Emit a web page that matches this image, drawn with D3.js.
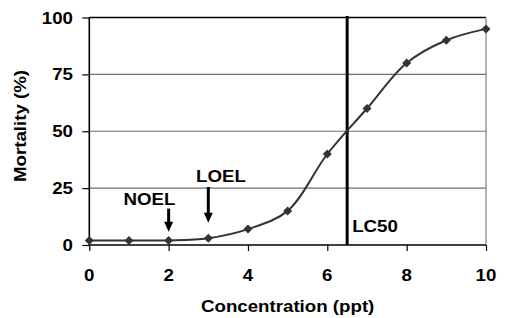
<!DOCTYPE html>
<html>
<head>
<meta charset="utf-8">
<script src="https://cdn.jsdelivr.net/npm/d3@7"></script>
<style>
  body { margin: 0; background: #fff; }
  svg text { font-family: "Liberation Sans", Arial, sans-serif; font-weight: bold; font-size: 17px; fill: #000; }
</style>
</head>
<body>
<svg id="chart" width="506" height="318"></svg>
<script>
// data
const concentration = [0, 1, 2, 3, 4, 5, 6, 7, 8, 9, 10];
const mortality = [2, 2, 2, 3, 7, 15, 40, 60, 80, 90, 95];
const xTicks = [0, 2, 4, 6, 8, 10];
const yTicks = [0, 25, 50, 75, 100];
const lc50 = 6.5;
// arrows: label, x value, top and tip of arrow (mortality units)
const arrowLabels = ["NOEL", "LOEL"];
const arrowX = [2, 3];
const arrowTop = [16, 25.5];
const arrowTip = [5.8, 9.8];

const svg = d3.select("#chart");
const sx = 1.1; // text is a bit wider than plain Arial

const x = d3.scaleLinear().domain([0, 10]).range([89.3, 486]);
const y = d3.scaleLinear().domain([0, 100]).range([245, 17.5]);

// stretched text helper
function label(txt, px, py, anchor, rot) {
  return svg.append("text")
    .attr("transform", `translate(${px},${py}) rotate(${rot || 0}) scale(${sx},1)`)
    .attr("text-anchor", anchor || "start")
    .text(txt);
}

// grid lines
svg.append("g").selectAll("line")
  .data(yTicks.filter(d => d > 0 && d < 100))
  .enter().append("line")
  .attr("x1", x(0)).attr("x2", x(10))
  .attr("y1", d => y(d)).attr("y2", d => y(d))
  .style("stroke", "#6e6e6e").style("stroke-width", 1.2);

// top border and right border
svg.append("line")
  .attr("x1", x(0)).attr("x2", x(10))
  .attr("y1", y(100)).attr("y2", y(100))
  .style("stroke", "#000").style("stroke-width", 1.6);
svg.append("line")
  .attr("x1", x(10)).attr("x2", x(10))
  .attr("y1", y(100)).attr("y2", y(0))
  .style("stroke", "#808080").style("stroke-width", 1.2);

// axes
const xAxis = d3.axisBottom(x).tickValues(xTicks).tickSize(6).tickFormat("");
const yAxis = d3.axisLeft(y).tickValues(yTicks).tickSize(7).tickFormat("");
svg.append("g").attr("transform", `translate(0,${y(0)})`).call(xAxis)
  .call(g => g.select(".domain").attr("d", `M${x(0)},0H${x(10)}`));
svg.append("g").attr("transform", `translate(${x(0)},0)`).call(yAxis)
  .call(g => g.select(".domain").attr("d", `M0,${y(100)}V${y(0)}`));
svg.selectAll(".domain").style("stroke", "#000").style("stroke-width", 1.6);
svg.selectAll(".tick line").style("stroke", "#000").style("stroke-width", 1.2);

// tick labels
yTicks.forEach(d => label(d, 73, y(d) + 6, "end"));
xTicks.forEach(d => label(d, x(d), 281, "middle"));

// axis titles
label("Concentration (ppt)", x(5), 312, "middle");
label("Mortality (%)", 25.5, 126, "middle", -90);

// LC50 line
svg.append("line")
  .attr("x1", x(lc50)).attr("x2", x(lc50))
  .attr("y1", y(100) - 1.5).attr("y2", y(0))
  .style("stroke", "#000").style("stroke-width", 3);
label("LC50", x(lc50) + 5, 231.5, "start");

// curve
const pts = concentration.map((c, i) => [c, mortality[i]]);
const line = d3.line()
  .x(d => x(d[0])).y(d => y(d[1]))
  .curve(d3.curveCatmullRom.alpha(0.5));
svg.append("path")
  .datum(pts)
  .attr("d", line)
  .style("fill", "none")
  .style("stroke", "#333")
  .style("stroke-width", 2);

// diamond markers
svg.selectAll(".marker")
  .data(pts)
  .enter().append("path")
  .attr("class", "marker")
  .attr("transform", d => `translate(${x(d[0])},${y(d[1])})`)
  .attr("d", "M0,-4.5L4.5,0L0,4.5L-4.5,0Z")
  .style("fill", "#333");

// arrows
arrowLabels.forEach((lab, i) => {
  const ax = x(arrowX[i]);
  const top = y(arrowTop[i]);
  const tip = y(arrowTip[i]);
  svg.append("line")
    .attr("x1", ax).attr("x2", ax)
    .attr("y1", top).attr("y2", tip - 8)
    .style("stroke", "#000").style("stroke-width", 3);
  svg.append("path")
    .attr("d", `M${ax - 4.5},${tip - 10}L${ax + 4.5},${tip - 10}L${ax},${tip}Z`)
    .style("fill", "#000");
});
label(arrowLabels[0], 149.5, 205, "middle");
label(arrowLabels[1], 221, 181.7, "middle");
</script>
</body>
</html>
